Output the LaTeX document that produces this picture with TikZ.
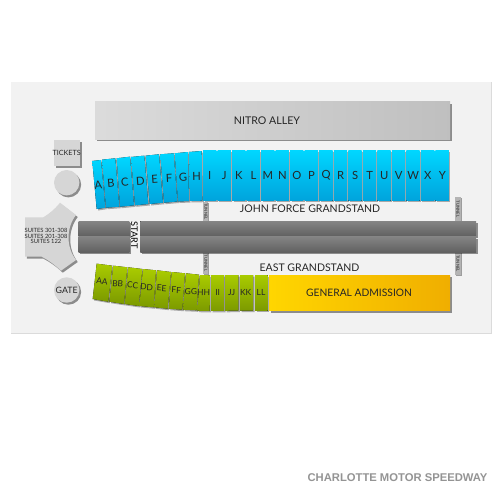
\documentclass[tikz,border=0pt]{standalone}
\usepackage{fontspec}
\setmainfont{Lato}
\newfontfamily\brandfont{Liberation Sans}[Scale=1]
\usetikzlibrary{shadows}
\tikzset{
	lbl/.style={anchor=center, inner sep=0pt, text=black!85, font=\fontsize{#1}{#1}\selectfont},
	lbl/.default=6,
	shade/.style={drop shadow={shadow xshift=.035cm, shadow yshift=-.04cm, opacity=.42, fill=black}},
	blueseat/.style={drop shadow={shadow xshift=.03cm, shadow yshift=-.03cm, opacity=.3, fill=black}, top color=cyan1, bottom color=cyan2},
	greenseat/.style={drop shadow={shadow xshift=.03cm, shadow yshift=-.03cm, opacity=.3, fill=black}, top color=green1, bottom color=green2},
	band/.style={shade, top color=band1, bottom color=band2},
	tunnelstrip/.style={fill=tunnelgrey, drop shadow={shadow xshift=.02cm, shadow yshift=-.02cm, opacity=.35, fill=black}},
	tunneltxt/.style={lbl=2.4, rotate=-90},
	greyblock/.style={fill=blockgrey, shade},
}
\definecolor{cyan1}{HTML}{00D6FF}
\definecolor{cyan2}{HTML}{00A3DC}
\definecolor{green1}{HTML}{A9CB00}
\definecolor{green2}{HTML}{7C9A00}
\definecolor{band1}{HTML}{848484}
\definecolor{band2}{HTML}{616161}
\definecolor{tunnelgrey}{HTML}{B4B4B4}
\definecolor{blockgrey}{HTML}{D6D6D6}
\definecolor{panelgrey}{HTML}{F2F2F2}
\definecolor{gold1}{HTML}{FFD600}
\definecolor{gold2}{HTML}{F0AE00}
\begin{document}
\begin{tikzpicture}[x=.02cm, y=-.02cm]
	\useasboundingbox (0,0) rectangle (500,500) ;
	\fill[white] (0,0) rectangle (500,500) ;
	% panel
	\fill[black!14] (11,82.5) rectangle (491.5,334) ;
	\fill[panelgrey] (11,82.5) rectangle (490.5,332.5) ;
	% nitro alley
	\fill[shade, left color=black!14, right color=black!25] (95,102) rectangle (450,139.3) ;
	\node (nitro)[lbl=6.05] at (267,120.5) {NITRO ALLEY} ;
	% tickets and gate
	\fill[greyblock] (54,140.3) rectangle (80.3,166) ;
	\node (tickets)[lbl=4.1] at (66.7,152.7) {TICKETS} ;
	\fill[greyblock] (66.7,182.7) circle (12.7) ;
	\fill[greyblock] (66.7,290) circle (12.7) ;
	\node (gate)[lbl=5] at (66.7,290) {GATE} ;
	% suites
	\fill[greyblock] (60,202.7) -- (76,215) .. controls (66,228) and (66,247) .. (76,260) -- (61,270.7)
		.. controls (54,264) and (48,260) .. (41.7,256.7) -- (25,256.7) -- (25,217.3) -- (43.3,217.3)
		.. controls (49,214) and (55,209) .. (60,202.7) -- cycle ;
	\node (suites)[lbl=3.3, align=center] at (46,236) {SUITES 301-308\\[-.1em]SUITES 201-308\\[-.1em]SUITES 122} ;
	% tunnels go under the bands
	\foreach \tname/\tx/\ty/\tw/\th in {tunnela/203.3/201.5/5/20, tunnelb/203.3/252/5/22, tunnelc/455/197/5.5/24, tunneld/455/252/5.5/23}{
		\fill[tunnelstrip] (\tx,\ty) rectangle +(\tw,\th) ;
		\node (\tname)[tunneltxt] at (\tx+.5*\tw,\ty+.5*\th) {TUNNEL} ;
	}
	% track
	\fill[band] (78.7,221.3) rectangle (129.3,236) ;
	\fill[band] (78.7,236.7) rectangle (129.3,252) ;
	\fill[band] (140.3,221.3) rectangle (476,236) ;
	\fill[band] (140.3,236.7) rectangle (476,252) ;
	\node (start)[lbl=5.2, rotate=-90, text=black] at (134.5,235) {START} ;
	\node (john)[lbl=6] at (310,208.3) {JOHN FORCE GRANDSTAND} ;
	\node (east)[lbl=6] at (309.5,267.8) {EAST GRANDSTAND} ;
	% bent part of the blue stand
	\foreach \lab/\ax/\ay/\bx/\by/\cx/\cy/\dx/\dy/\lx/\ly/\rot in {
		A/92.3/161/101/160/105.3/207.7/96.7/209/98.3/185/6,
		B/102/159.7/115.3/158.3/119.3/206.7/106/207.7/111/183.3/5,
		C/116.7/158.3/130/156.7/134/205.3/120/206.7/124.7/182/5,
		D/131/157/144.3/155.7/148.3/204/135/205.3/140.3/181/4,
		E/145.7/155.7/159/154.3/163/202.7/149.7/204/154.7/179.7/4,
		F/160.3/154.3/173.7/153.3/177.3/201.5/164/202.7/169/178.3/3,
		G/174.7/153.3/188/152/189/201/178/201.5/183/177/3,
		H/189/152/201.7/151/202.3/200.7/190/201/196.7/176/1}{
		\fill[blueseat] (\ax,\ay) -- (\bx,\by) -- (\cx,\cy) -- (\dx,\dy) -- cycle ;
		\node (s\lab)[lbl=6.4, rotate=\rot] at (\lx,\ly) {\lab} ;
	}
	% straight part
	\foreach \lab [count=\i from 0] in {I,J,K,L,M,N,O,P,Q,R,S,T,U,V,W,X,Y}{
		\fill[blueseat] (203+14.53*\i,150.8) rectangle +(13.3,49.9) ;
		\node (s\lab)[lbl=6.4] at (209.8+14.53*\i,175.6) {\lab} ;
	}
	% green stand
	\foreach \lab/\ax/\ay/\bx/\by/\cx/\cy/\dx/\dy/\lx/\ly/\rot in {
		AA/96.7/263.7/112.3/265.7/108.3/301.7/92.7/299/102/281.3/-6,
		BB/113.3/265.7/127.3/267.3/124/304/109.3/301.7/117.7/283.7/-5,
		CC/128.3/267.3/142.3/269/138.7/306/124.7/304/132.7/285.3/-5,
		DD/143/269/156/270.3/153.7/307.3/139.3/306/146.7/287/-4,
		EE/157/270.3/171/272/167.7/308.7/154.3/307.3/161.7/288.3/-4,
		FF/171.7/272/185/273.3/182.3/309.7/168.7/308.7/176.3/290/-3,
		GG/186/273.3/199/274.7/196.7/310.3/183/309.7/191/291.3/-2,
		HH/200/275/210/275.3/209.7/311/197.3/310.7/203.7/292.3/-1,
		II/211/275/224/275/224/310.8/211/311/217.7/292.3/0,
		JJ/225/275/238.3/275/238.3/310.6/225/310.8/231.7/292.3/0,
		KK/240/275/253/275/253/310.5/240/310.6/245.7/292.3/0,
		LL/255/275/267.5/275/267.5/310.5/255/310.5/261/292.7/0}{
		\fill[greenseat] (\ax,\ay) -- (\bx,\by) -- (\cx,\cy) -- (\dx,\dy) -- cycle ;
		\node (s\lab)[lbl=4.8, rotate=\rot] at (\lx,\ly) {\lab} ;
	}
	% general admission
	\fill[shade, left color=gold1, right color=gold2] (269,275) rectangle (450,310.5) ;
	\node (ga)[lbl=5.85] at (359,292.7) {GENERAL ADMISSION} ;
	\node (venue)[inner sep=0pt, text=black!42, font=\brandfont\bfseries\fontsize{6.4}{6.4}\selectfont] at (397.5,478) {CHARLOTTE MOTOR SPEEDWAY} ;
\end{tikzpicture}
\end{document}
